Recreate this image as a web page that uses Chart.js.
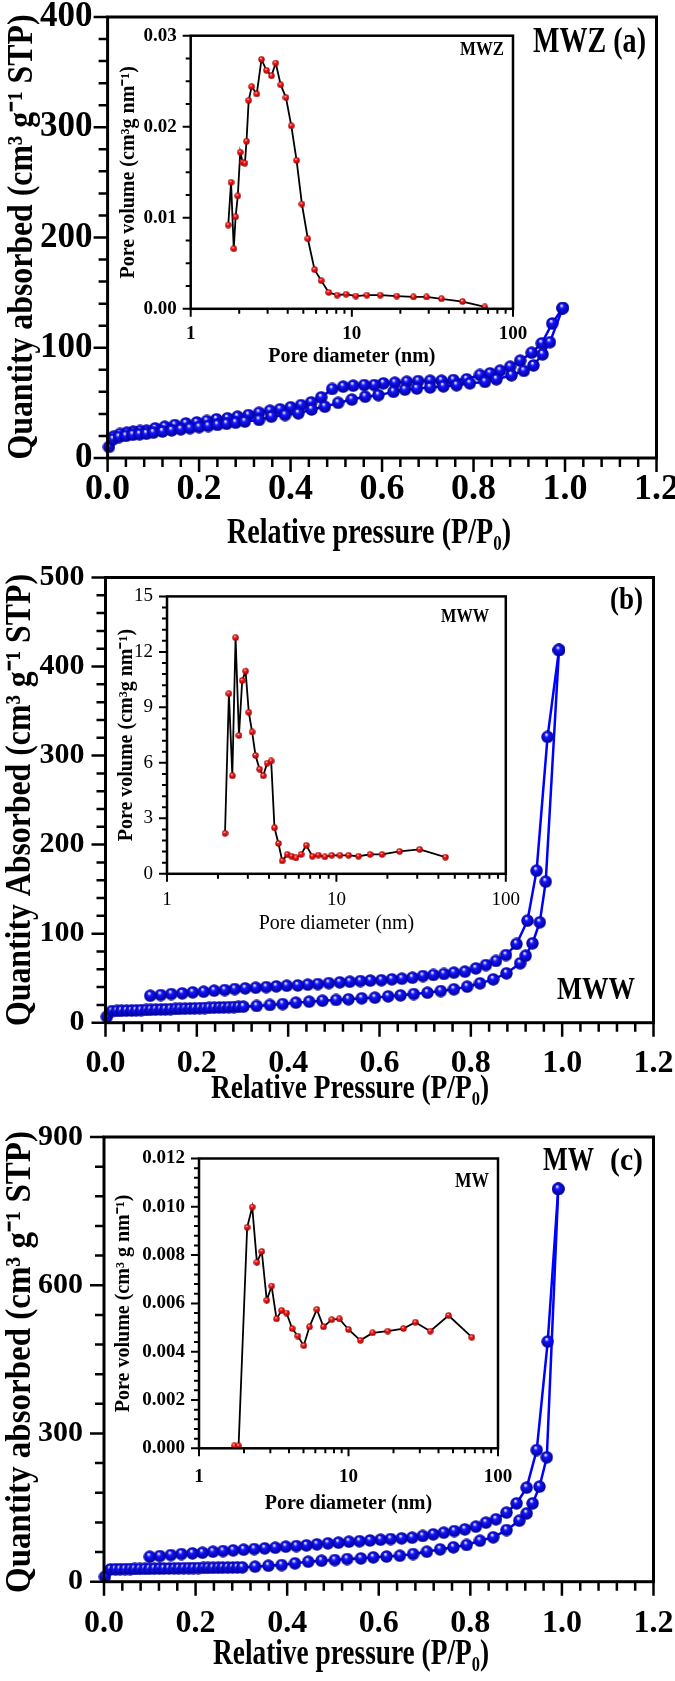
<!DOCTYPE html>
<html>
<head>
<meta charset="utf-8">
<script src="https://cdn.jsdelivr.net/npm/chart.js@4.4.1/dist/chart.umd.min.js"></script>
<style>
  body { margin: 0; background: #fff; }
  #fig { position: relative; width: 675px; height: 1681px; background: #fff; overflow: hidden; }
  #fig canvas { position: absolute; }
</style>
</head>
<body>
<div id="fig">
  <canvas id="isoA" width="675" height="565" style="left:0;top:0"></canvas>
  <canvas id="isoB" width="675" height="560" style="left:0;top:565px"></canvas>
  <canvas id="isoC" width="675" height="556" style="left:0;top:1125px"></canvas>
  <canvas id="poreA" width="420" height="345" style="left:110px;top:25px"></canvas>
  <canvas id="poreB" width="410" height="355" style="left:110px;top:585px"></canvas>
  <canvas id="poreC" width="405" height="380" style="left:110px;top:1145px"></canvas>
</div>
<script>
// ---- N2 isotherms: relative pressure P/P0 vs quantity adsorbed (cm3/g STP)
// MWZ (a)
var mwzAdsP = [0.003, 0.012, 0.025, 0.04, 0.055, 0.07, 0.085, 0.10, 0.12, 0.14, 0.16, 0.18, 0.20, 0.22, 0.24, 0.26, 0.28, 0.30, 0.331, 0.358, 0.388, 0.417, 0.446, 0.475, 0.504, 0.534, 0.563, 0.592, 0.625, 0.65, 0.676, 0.705, 0.734, 0.763, 0.792, 0.825, 0.85, 0.883, 0.91, 0.931, 0.951, 0.967, 0.995];
var mwzAdsQ = [10, 17, 19, 20, 21, 21.5, 22, 23, 24, 25, 26, 27, 28, 29, 30, 31, 32, 33, 34.5, 37.5, 39, 40.5, 44, 46.5, 50, 53, 55.6, 57, 60, 62, 63, 64, 65, 66, 67.7, 69, 71.4, 75, 79, 84, 94, 105, 136];
var mwzDesP = [0.995, 0.972, 0.949, 0.927, 0.902, 0.88, 0.858, 0.836, 0.814, 0.785, 0.756, 0.73, 0.705, 0.679, 0.654, 0.628, 0.603, 0.583, 0.561, 0.537, 0.515, 0.491, 0.467, 0.445, 0.423, 0.40, 0.377, 0.355, 0.331, 0.308, 0.284, 0.262, 0.238, 0.217, 0.195, 0.171, 0.147, 0.125, 0.104, 0.085, 0.071, 0.056, 0.042, 0.027, 0.013];
var mwzDesQ = [136, 122, 104, 95.5, 88.3, 82.8, 79.2, 76.8, 75.3, 71.4, 70.7, 70.1, 70.1, 69.8, 69.2, 68.3, 67.7, 66.2, 66.2, 65.6, 64.7, 62.6, 55, 50.5, 48, 46, 44.2, 42.9, 41, 39, 37.5, 36, 35.1, 33.6, 32.3, 31.4, 29.9, 28.4, 26.9, 24.8, 24.5, 23.9, 23, 21.8, 19.3];

// MWW (b)
var mwwAdsP = [0.003, 0.014, 0.025, 0.035, 0.046, 0.057, 0.067, 0.078, 0.089, 0.099, 0.11, 0.121, 0.131, 0.142, 0.153, 0.163, 0.174, 0.185, 0.195, 0.206, 0.217, 0.227, 0.238, 0.249, 0.259, 0.27, 0.281, 0.291, 0.302, 0.331, 0.36, 0.388, 0.417, 0.446, 0.475, 0.505, 0.532, 0.561, 0.59, 0.619, 0.646, 0.675, 0.705, 0.734, 0.763, 0.792, 0.82, 0.849, 0.878, 0.908, 0.92, 0.935, 0.951, 0.964, 0.993];
var mwwAdsQ = [6.7, 13.0, 13.2, 13.4, 13.6, 13.7, 13.9, 14.1, 14.3, 14.5, 14.7, 14.9, 15.0, 15.2, 15.4, 15.6, 15.8, 16.0, 16.1, 16.3, 16.5, 16.7, 16.9, 17.1, 17.2, 17.4, 17.6, 17.8, 18.0, 18.8, 19.9, 21, 22.5, 23.6, 24.7, 25.5, 26.3, 27.4, 28.1, 29.6, 30.7, 32.2, 33.7, 35.6, 37.5, 40.5, 44.2, 48.7, 55.5, 66.7, 75.2, 89.2, 112.8, 158.4, 418.6];
var mwwDesP = [0.993, 0.968, 0.944, 0.924, 0.900, 0.877, 0.855, 0.833, 0.811, 0.787, 0.763, 0.741, 0.718, 0.695, 0.672, 0.649, 0.627, 0.604, 0.580, 0.558, 0.535, 0.513, 0.489, 0.465, 0.443, 0.421, 0.397, 0.374, 0.352, 0.329, 0.306, 0.283, 0.261, 0.238, 0.215, 0.191, 0.168, 0.144, 0.121, 0.098];
var mwwDesQ = [418.6, 321, 170.7, 114.6, 88.4, 76, 69.3, 64.8, 61, 57.3, 56.2, 54.7, 53.6, 52.4, 50.5, 49.4, 48.7, 47.7, 47.3, 46.8, 46, 45.3, 44.5, 43.4, 42.7, 41.9, 41.5, 40.8, 40, 39.3, 38.6, 37.8, 36.7, 36, 34.8, 34.1, 33, 32.2, 31.1, 30.3];

// MW (c)
var mwAdsP = [0.002, 0.014, 0.025, 0.035, 0.046, 0.057, 0.067, 0.078, 0.089, 0.099, 0.11, 0.121, 0.131, 0.142, 0.153, 0.163, 0.174, 0.185, 0.195, 0.206, 0.217, 0.227, 0.238, 0.249, 0.259, 0.27, 0.281, 0.291, 0.302, 0.33, 0.359, 0.388, 0.417, 0.446, 0.475, 0.504, 0.531, 0.561, 0.588, 0.617, 0.646, 0.675, 0.705, 0.734, 0.763, 0.792, 0.821, 0.85, 0.879, 0.907, 0.923, 0.936, 0.951, 0.967, 0.992];
var mwAdsQ = [10, 25.0, 25.2, 25.3, 25.5, 25.6, 25.8, 25.9, 26.1, 26.2, 26.4, 26.5, 26.7, 26.8, 27.0, 27.1, 27.3, 27.4, 27.6, 27.7, 27.9, 28.0, 28.2, 28.3, 28.5, 28.6, 28.8, 28.9, 29.1, 30.4, 32.4, 33.7, 37.2, 40.5, 42.5, 43.9, 45.9, 47.2, 49.3, 51, 52.6, 56, 60.7, 65.5, 69.6, 74.3, 83, 89.9, 104.6, 123.5, 138.4, 158.6, 192.3, 251.8, 795];
var mwDesP = [0.992, 0.969, 0.945, 0.923, 0.901, 0.879, 0.856, 0.834, 0.812, 0.788, 0.765, 0.742, 0.719, 0.696, 0.673, 0.65, 0.626, 0.604, 0.581, 0.558, 0.535, 0.512, 0.489, 0.465, 0.442, 0.42, 0.397, 0.374, 0.351, 0.328, 0.305, 0.282, 0.26, 0.238, 0.215, 0.193, 0.169, 0.146, 0.122, 0.1];
var mwDesQ = [795, 486, 266.5, 190.3, 158.6, 139.8, 126.3, 119.5, 111.4, 106, 102.6, 99.3, 95.9, 92.5, 89.1, 87.8, 86.3, 85, 83.5, 82, 81, 79, 77.6, 75.6, 73.6, 72.2, 70.9, 68.8, 67.5, 66.1, 64.8, 63.4, 62.1, 60.7, 58.7, 57.4, 56, 54, 52, 50.6];

// ---- pore size distributions (insets): diameter (nm) vs pore volume
var mwzPoreD = [1.71, 1.78, 1.85, 1.90, 1.96, 2.03, 2.10, 2.17, 2.22, 2.29, 2.39, 2.57, 2.75, 2.95, 3.17, 3.37, 3.62, 3.90, 4.21, 4.54, 4.90, 5.33, 5.87, 6.45, 7.19, 8.1, 9.2, 10.6, 12.4, 15.0, 19.0, 24.1, 29.1, 36.0, 48.6, 66.9];
var mwzPoreV = [0.0092, 0.0139, 0.0066, 0.0101, 0.0124, 0.0172, 0.0161, 0.0160, 0.0184, 0.0229, 0.0244, 0.0236, 0.0274, 0.0262, 0.0256, 0.0270, 0.0246, 0.0232, 0.0201, 0.0163, 0.0115, 0.0077, 0.0043, 0.0031, 0.0018, 0.0015, 0.0016, 0.0014, 0.0015, 0.0015, 0.0014, 0.0013, 0.0013, 0.0011, 0.0008, 0.0002];
var mwwPoreD = [2.20, 2.32, 2.43, 2.54, 2.66, 2.78, 2.91, 3.04, 3.18, 3.33, 3.52, 3.70, 3.90, 4.12, 4.31, 4.55, 4.79, 5.13, 5.44, 5.77, 6.19, 6.64, 7.21, 7.82, 8.55, 9.38, 10.5, 11.8, 13.5, 15.8, 18.6, 23.6, 31.0, 44.0];
var mwwPoreV = [2.19, 9.74, 5.3, 12.77, 7.48, 10.45, 10.96, 8.73, 7.67, 6.4, 5.66, 5.3, 5.98, 6.1, 2.49, 1.64, 0.7, 1.05, 0.95, 0.86, 1.05, 1.54, 0.95, 1.01, 0.92, 1.0, 1.0, 1.0, 0.95, 1.05, 1.05, 1.21, 1.32, 0.9];
var mwPoreD = [1.72, 1.84, 2.10, 2.27, 2.44, 2.63, 2.84, 3.06, 3.30, 3.57, 3.85, 4.20, 4.58, 5.02, 5.48, 6.14, 6.80, 7.73, 8.69, 10.0, 12.0, 14.5, 18.3, 23.3, 28.0, 35.2, 46.7, 66.8];
var mwPoreV = [0.0001, 0.0001, 0.00915, 0.00999, 0.0077, 0.00815, 0.00613, 0.00672, 0.00536, 0.00571, 0.0056, 0.00496, 0.00465, 0.00425, 0.00503, 0.00575, 0.00503, 0.00533, 0.00536, 0.00492, 0.00447, 0.00478, 0.00485, 0.00496, 0.00522, 0.00485, 0.0055, 0.0046];

// ---- tick labels
var isoXTicks = [0, 0.2, 0.4, 0.6, 0.8, 1.0, 1.2];
var mwzYTicks = [0, 100, 200, 300, 400];
var mwwYTicks = [0, 100, 200, 300, 400, 500];
var mwYTicks = [0, 300, 600, 900];
var poreXTicks = [1, 10, 100];
var mwzPoreYTicks = [0, 0.01, 0.02, 0.03];
var mwwPoreYTicks = [0, 3, 6, 9, 12, 15];
var mwPoreYTicks = [0, 0.002, 0.004, 0.006, 0.008, 0.010, 0.012];

var SERIF = "'Liberation Serif', 'Times New Roman', serif";
Chart.defaults.font.family = SERIF;
Chart.defaults.color = '#000';

// shaded sphere used as point marker
function ball(d, base, dark) {
    var c = document.createElement('canvas');
    c.width = d; c.height = d;
    var g = c.getContext('2d');
    var r = d / 2;
    var grad = g.createRadialGradient(r * 0.8, r * 0.6, r * 0.05, r, r, r);
    grad.addColorStop(0, '#ffffff');
    grad.addColorStop(0.3, base);
    grad.addColorStop(1, dark);
    g.fillStyle = grad;
    g.beginPath();
    g.arc(r, r, r - 0.3, 0, 2 * Math.PI);
    g.fill();
    return c;
}
var blueBall = ball(13, '#1414ff', '#00008c');
var redBall = ball(7, '#ff1a1a', '#8c0000');

function pts(xs, ys) {
    return xs.map(function (x, i) { return {x: x, y: ys[i]}; });
}

function minorList(scale, step) {
    var out = [];
    if (step === 'log') {
        for (var dec = scale.min; dec < scale.max; dec *= 10) {
            for (var m = 2; m <= 9; m++) out.push(m * dec);
        }
    } else {
        var n = Math.round((scale.max - scale.min) / step);
        for (var i = 1; i < n; i++) out.push(scale.min + i * step);
    }
    return out;
}

// condensed text: squeezed to maxWidth like the original figure's lettering
function drawText(ctx, t, rotate) {
    ctx.save();
    ctx.font = t.font;
    ctx.textAlign = t.align || 'center';
    ctx.textBaseline = t.baseline || 'middle';
    ctx.translate(t.x, t.y);
    if (rotate) ctx.rotate(-Math.PI / 2);
    if (t.maxWidth) ctx.fillText(t.text, 0, 0, t.maxWidth);
    else ctx.fillText(t.text, 0, 0);
    ctx.restore();
}

// box around the plot area, major/minor outward ticks, titles and panel labels
var framePlugin = {
    id: 'frame',
    afterDraw: function (chart, args, o) {
        var ctx = chart.ctx, a = chart.chartArea;
        var xs = chart.scales.x, ys = chart.scales.y;
        ctx.save();
        ctx.strokeStyle = '#000';
        ctx.lineWidth = o.tickWidth;
        ctx.beginPath();
        xs.ticks.forEach(function (t) {
            var p = xs.getPixelForValue(t.value);
            ctx.moveTo(p, a.bottom); ctx.lineTo(p, a.bottom + o.major);
        });
        minorList(xs, o.xMinor).forEach(function (v) {
            var p = xs.getPixelForValue(v);
            ctx.moveTo(p, a.bottom); ctx.lineTo(p, a.bottom + o.minor);
        });
        ys.ticks.forEach(function (t) {
            var p = ys.getPixelForValue(t.value);
            ctx.moveTo(a.left, p); ctx.lineTo(a.left - o.major, p);
        });
        minorList(ys, o.yMinor).forEach(function (v) {
            var p = ys.getPixelForValue(v);
            ctx.moveTo(a.left, p); ctx.lineTo(a.left - o.minor, p);
        });
        ctx.stroke();
        ctx.lineWidth = o.width;
        ctx.strokeRect(a.left, a.top, a.right - a.left, a.bottom - a.top);
        ctx.fillStyle = '#000';
        if (o.xTitle) drawText(ctx, o.xTitle, false);
        if (o.yTitle) drawText(ctx, o.yTitle, true);
        (o.labels || []).forEach(function (l) { drawText(ctx, l, false); });
        ctx.restore();
    }
};

function fixBox(size, vertical) {
    return function (s) {
        if (vertical) s.width = size; else s.height = size;
        s.paddingLeft = 0; s.paddingRight = 0; s.paddingTop = 0; s.paddingBottom = 0;
    };
}

function isoChart(id, s) {
    return new Chart(document.getElementById(id), {
        type: 'scatter',
        data: {
            datasets: [{
                label: 'adsorption',
                data: pts(s.adsP, s.adsQ),
                showLine: true,
                borderColor: '#0000ff',
                borderWidth: 2.5,
                pointStyle: blueBall,
                pointRadius: 6,
                clip: false
            }, {
                label: 'desorption',
                data: pts(s.desP, s.desQ),
                showLine: true,
                borderColor: '#0000ff',
                borderWidth: 2.5,
                pointStyle: blueBall,
                pointRadius: 6,
                clip: false
            }]
        },
        options: {
            responsive: false,
            animation: false,
            events: [],
            layout: {padding: {left: 0, top: s.top, right: s.right, bottom: 0}},
            plugins: {
                legend: {display: false},
                tooltip: {enabled: false},
                frame: {
                    width: 3, tickWidth: 2.5, major: 14, minor: 9, xMinor: 0.04, yMinor: s.yMinor,
                    xTitle: s.xTitle, yTitle: s.yTitle, labels: s.labels
                }
            },
            scales: {
                x: {
                    type: 'linear', min: 0, max: 1.2,
                    afterBuildTicks: function (a) { a.ticks = isoXTicks.map(function (v) { return {value: v}; }); },
                    afterFit: fixBox(s.xh, false),
                    grid: {display: false, drawTicks: false},
                    border: {display: false},
                    ticks: {
                        font: {size: s.xFont, weight: 'bold'}, padding: s.xPad,
                        maxRotation: 0, autoSkip: false,
                        callback: function (v) { return v.toFixed(1); }
                    },
                    title: {display: false, text: s.xTitle.text}
                },
                y: {
                    type: 'linear', min: 0, max: s.yTicks[s.yTicks.length - 1],
                    afterBuildTicks: function (a) { a.ticks = s.yTicks.map(function (v) { return {value: v}; }); },
                    afterFit: fixBox(s.yw, true),
                    grid: {display: false, drawTicks: false},
                    border: {display: false},
                    ticks: {font: {size: s.yFont, weight: 'bold'}, padding: s.yPad, autoSkip: false},
                    title: {display: false, text: s.yTitle.text}
                }
            }
        },
        plugins: [framePlugin]
    });
}

function poreChart(id, s) {
    return new Chart(document.getElementById(id), {
        type: 'scatter',
        data: {
            datasets: [{
                label: 'pore volume',
                data: pts(s.d, s.v),
                showLine: true,
                borderColor: '#000',
                borderWidth: 1.8,
                pointStyle: redBall,
                pointRadius: 3.5,
                clip: false
            }]
        },
        options: {
            responsive: false,
            animation: false,
            events: [],
            layout: {padding: {left: 0, top: s.top, right: s.right, bottom: 0}},
            plugins: {
                legend: {display: false},
                tooltip: {enabled: false},
                frame: {width: 2.5, tickWidth: 2, major: 8, minor: 5, xMinor: 'log', yMinor: s.yMinor, labels: s.labels}
            },
            scales: {
                x: {
                    type: 'logarithmic', min: 1, max: 100,
                    afterBuildTicks: function (a) { a.ticks = poreXTicks.map(function (v) { return {value: v}; }); },
                    afterFit: fixBox(s.xh, false),
                    grid: {display: false, drawTicks: false},
                    border: {display: false},
                    ticks: {
                        font: {size: 19, weight: s.weight}, padding: s.xPad,
                        maxRotation: 0, autoSkip: false,
                        callback: function (v) { return String(v); }
                    },
                    title: {display: true, text: 'Pore diameter (nm)', font: {size: 20, weight: s.weight}, padding: {top: 0, bottom: s.xTitlePad}}
                },
                y: {
                    type: 'linear', min: 0, max: s.yTicks[s.yTicks.length - 1],
                    afterBuildTicks: function (a) { a.ticks = s.yTicks.map(function (v) { return {value: v}; }); },
                    afterFit: fixBox(s.yw, true),
                    grid: {display: false, drawTicks: false},
                    border: {display: false},
                    ticks: {
                        font: {size: 19, weight: s.weight}, padding: 14, autoSkip: false,
                        callback: function (v) { return v.toFixed(s.digits); }
                    },
                    title: {display: true, text: s.yTitle, font: {size: 20, weight: 'bold'}, padding: {top: s.yTitlePad, bottom: 0}}
                }
            }
        },
        plugins: [framePlugin]
    });
}

function bold(px) { return 'bold ' + px + 'px ' + SERIF; }

isoChart('isoA', {
    adsP: mwzAdsP, adsQ: mwzAdsQ, desP: mwzDesP, desQ: mwzDesQ,
    yTicks: mwzYTicks, yMinor: 20,
    top: 17, right: 18.5, yw: 107.6, xh: 107,
    xFont: 36, yFont: 35, xPad: 10, yPad: 15,
    xTitle: {text: 'Relative pressure (P/P\u2080)', x: 369, y: 534, font: bold(35), maxWidth: 284},
    yTitle: {text: 'Quantity absorbed (cm\u00b3 g\u207b\u00b9 STP)', x: 23, y: 237, font: bold(35), maxWidth: 445},
    labels: [{text: 'MWZ (a)', x: 646, y: 52, font: bold(36), align: 'right', baseline: 'alphabetic', maxWidth: 113}]
});

isoChart('isoB', {
    adsP: mwwAdsP, adsQ: mwwAdsQ, desP: mwwDesP, desQ: mwwDesQ,
    yTicks: mwwYTicks, yMinor: 20,
    top: 12.5, right: 21.5, yw: 105.5, xh: 102.3,
    xFont: 32, yFont: 30, xPad: 22, yPad: 21,
    xTitle: {text: 'Relative Pressure (P/P\u2080)', x: 350, y: 524, font: bold(33), maxWidth: 278},
    yTitle: {text: 'Quantity Absorbed (cm\u00b3 g\u207b\u00b9 STP)', x: 21, y: 235, font: bold(35), maxWidth: 452},
    labels: [
        {text: '(b)', x: 643, y: 44, font: bold(32), align: 'right', baseline: 'alphabetic', maxWidth: 33},
        {text: 'MWW', x: 635, y: 434, font: bold(31), align: 'right', baseline: 'alphabetic', maxWidth: 78}
    ]
});

isoChart('isoC', {
    adsP: mwAdsP, adsQ: mwAdsQ, desP: mwDesP, desQ: mwDesQ,
    yTicks: mwYTicks, yMinor: 60,
    top: 12, right: 21.5, yw: 104, xh: 99.3,
    xFont: 32, yFont: 30, xPad: 23, yPad: 21,
    xTitle: {text: 'Relative pressure (P/P\u2080)', x: 351, y: 530, font: bold(35), maxWidth: 276},
    yTitle: {text: 'Quantity absorbed (cm\u00b3 g\u207b\u00b9 STP)', x: 21, y: 237, font: bold(35), maxWidth: 462},
    labels: [
        {text: 'MW', x: 594, y: 45, font: bold(33), align: 'right', baseline: 'alphabetic', maxWidth: 51},
        {text: '(c)', x: 643, y: 45, font: bold(32), align: 'right', baseline: 'alphabetic', maxWidth: 33}
    ]
});

poreChart('poreA', {
    d: mwzPoreD, v: mwzPoreV, yTicks: mwzPoreYTicks, yMinor: 0.0025, digits: 2,
    top: 10.7, right: 17, yw: 80.7, xh: 61.2, xPad: 14, xTitlePad: 1, yTitlePad: 7,
    weight: 'bold',
    yTitle: 'Pore volume (cm\u00b3g nm\u207b\u00b9)',
    labels: [{text: 'MWZ', x: 394, y: 30, font: bold(19), align: 'right', baseline: 'alphabetic', maxWidth: 44}]
});

poreChart('poreB', {
    d: mwwPoreD, v: mwwPoreV, yTicks: mwwPoreYTicks, yMinor: 0.6, digits: 0,
    top: 11.4, right: 14.2, yw: 57, xh: 66.2, xPad: 15, xTitlePad: 4, yTitlePad: 5,
    weight: 'normal',
    yTitle: 'Pore volume (cm\u00b3g nm\u207b\u00b9)',
    labels: [{text: 'MWW', x: 379, y: 37, font: bold(19), align: 'right', baseline: 'alphabetic', maxWidth: 48}]
});

poreChart('poreC', {
    d: mwPoreD, v: mwPoreV, yTicks: mwPoreYTicks, yMinor: 0.0004, digits: 3,
    top: 13.5, right: 17, yw: 89, xh: 76.7, xPad: 17, xTitlePad: 9, yTitlePad: 2,
    weight: 'bold',
    yTitle: 'Pore volume (cm\u00b3 g nm\u207b\u00b9)',
    labels: [{text: 'MW', x: 379, y: 42, font: bold(21), align: 'right', baseline: 'alphabetic', maxWidth: 34}]
});
</script>
</body>
</html>
